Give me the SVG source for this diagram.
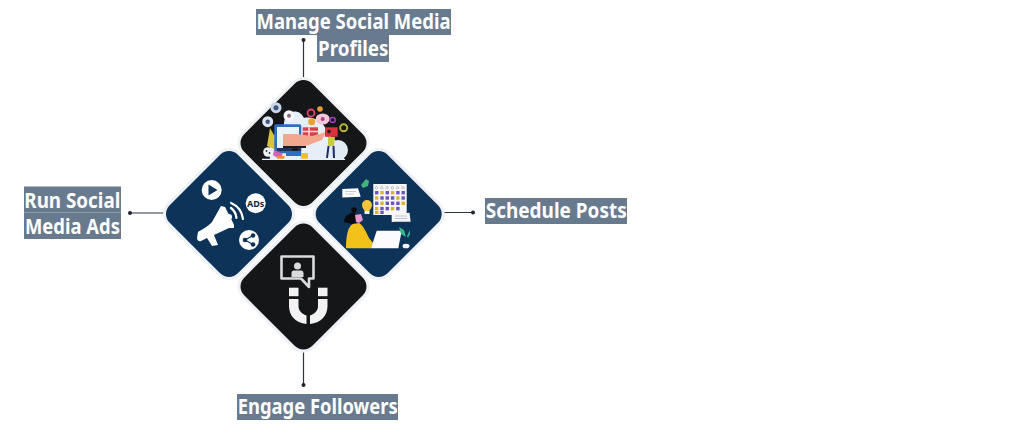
<svg xmlns="http://www.w3.org/2000/svg" width="1024" height="435" viewBox="0 0 1024 435">
<style>
.lbl{fill:#677a8e}
.t{font-family:"Noto Sans","Open Sans",sans-serif;font-weight:700;font-size:20.500px;fill:#fff}
.d{stroke:#eef1f5;stroke-width:3}
.navy{fill:#0d3358}.blk{fill:#141617}
.c{stroke:#2b3440;stroke-width:1.2;fill:none}.dot{fill:#1c2530}
.w{fill:#fff}.wl{stroke:#fff;fill:none;stroke-width:2.2;stroke-linecap:round}
.p{fill:#6a55b8}.y{fill:#d9b42c}
.ln{stroke:#aab2bc;stroke-width:.7;fill:none}
</style>
<rect width="1024" height="435" fill="#fff"/>
<g id="connectors">
<path class="c" d="M303.500 40V78M443 212.500H473M130 213H165M303.500 350V385"/>
<circle class="dot" cx="303.500" cy="40" r="2"/><circle class="dot" cx="473" cy="212.500" r="2"/><circle class="dot" cx="130" cy="213" r="2"/><circle class="dot" cx="303.500" cy="385" r="2"/>
</g>
<g id="node-top">
<rect class="d blk" x="253.800" y="93.300" width="99.400" height="99.400" rx="14" transform="rotate(45 303.500 143)"/>
<path d="M270 159C268 142 276 130 284 124C284 112 298 106 304 118C312 116 326 122 326 132C336 140 346 150 344 159Z" fill="#e6eff8"/>
<circle cx="338" cy="150" r="10" fill="#dfeaf5"/>
<circle cx="276" cy="107.700" r="5.500" fill="#c9d6e6"/><circle cx="276" cy="107.700" r="2.500" fill="#3d5580"/>
<circle cx="267.700" cy="121.700" r="5.500" fill="#dde6f0"/><circle cx="267.700" cy="121.700" r="2.200" fill="#3d5580"/>
<circle cx="289" cy="115.700" r="5.500" fill="#f3f6fa"/><circle cx="289" cy="115.700" r="2" fill="#8a6a70"/>
<circle cx="311" cy="113" r="3.500" fill="none" stroke="#e0476e" stroke-width="1.800"/>
<circle cx="320" cy="109" r="2.800" fill="#e69a3c"/>
<circle cx="311.700" cy="121.700" r="3.500" fill="#f0a030"/>
<ellipse cx="322.700" cy="119" rx="7" ry="5.500" fill="#f5c6d8"/><circle cx="322.700" cy="119" r="2" fill="#b03a8a"/>
<circle cx="332.700" cy="120" r="2.500" fill="none" stroke="#a03fc0" stroke-width="1.500"/>
<circle cx="343.700" cy="127.700" r="3.500" fill="none" stroke="#b5b535" stroke-width="2"/>
<path d="M267 146L270 128L274 135L276 150Z" fill="#d8c33a"/>
<rect x="274.300" y="124.300" width="27" height="29" rx="1.500" fill="#2a6fc4"/>
<rect x="277" y="127" width="22" height="21" fill="#eaf2fb"/>
<rect x="277" y="148" width="24" height="3" fill="#1f3560"/>
<rect x="302.700" y="127.300" width="15.300" height="9.500" fill="#d8404a"/>
<path d="M309 127.300V136.800M302.700 131.500H318" stroke="#f7d8da" stroke-width="1.500"/>
<path d="M283 134H296L312 136L326 132L322 140L306 146H283Z" fill="#f2a78f"/>
<path d="M283 146H306V148H298V151H292V148H283Z" fill="#1a1c20"/>
<rect x="325" y="127.300" width="12.700" height="9.500" fill="#d8323c"/>
<circle cx="329" cy="131.500" r="1.800" fill="#2a1a20"/>
<path d="M328 137L331 137L335 137L334 146H328Z" fill="#c8cc3e"/>
<path d="M328.500 146L327 158M333.500 146L334 158" stroke="#1f2a60" stroke-width="2"/>
<circle cx="268" cy="152" r="4.800" fill="#eef0f2"/><circle cx="266.500" cy="151" r=".9" fill="#333"/><circle cx="269.500" cy="153" r=".9" fill="#333"/>
<path d="M274 150L283 154L279 159L273 155Z" fill="#d860b0"/>
<path d="M277 156L285 156L283 160L277 159Z" fill="#f0902c"/>
<rect x="286" y="153" width="18" height="3" fill="#2a6fc4"/>
<rect x="301" y="153" width="7" height="6" rx="1" fill="#eec02e"/>
<path d="M262 159.300H345" stroke="#e9f0f7" stroke-width="1.200"/>
</g>
<g id="node-right">
<rect class="d navy" x="329" y="164.300" width="99.400" height="99.400" rx="14" transform="rotate(45 378.700 214)"/>
<path d="M342.300 189L358 188.300L360.700 196.700L342.300 197.500Z" class="w"/>
<path class="ln" d="M345 191.500H356M345 194H354"/>
<path d="M361 185L366 179L369 181L368 186L363 188Z" fill="#3fb57a"/>
<rect x="373.300" y="184" width="33.400" height="31" fill="#f6f6f8"/>
<g fill="none" stroke="#9aa0aa" stroke-width=".6"><circle cx="376.500" cy="187.700" r="1.200"/><circle cx="381.800" cy="187.700" r="1.200"/><circle cx="387.100" cy="187.700" r="1.200"/><circle cx="392.400" cy="187.700" r="1.200"/><circle cx="397.700" cy="187.700" r="1.200"/><circle cx="403" cy="187.700" r="1.200"/></g>
<rect class="p" x="375" y="191" width="3.400" height="3.400"/><rect class="y" x="380.300" y="191" width="3.400" height="3.400"/><rect class="p" x="385.600" y="191" width="3.400" height="3.400"/><rect class="y" x="390.900" y="191" width="3.400" height="3.400"/><rect class="p" x="396.200" y="191" width="3.400" height="3.400"/><rect class="p" x="401.500" y="191" width="3.400" height="3.400"/>
<rect class="y" x="375" y="196.300" width="3.400" height="3.400"/><rect class="p" x="380.300" y="196.300" width="3.400" height="3.400"/><rect class="p" x="385.600" y="196.300" width="3.400" height="3.400"/><rect class="p" x="390.900" y="196.300" width="3.400" height="3.400"/><rect class="y" x="396.200" y="196.300" width="3.400" height="3.400"/><rect class="p" x="401.500" y="196.300" width="3.400" height="3.400"/>
<rect class="p" x="375" y="201.600" width="3.400" height="3.400"/><rect class="y" x="380.300" y="201.600" width="3.400" height="3.400"/><rect class="p" x="385.600" y="201.600" width="3.400" height="3.400"/><rect class="p" x="390.900" y="201.600" width="3.400" height="3.400"/><rect class="p" x="396.200" y="201.600" width="3.400" height="3.400"/><rect class="y" x="401.500" y="201.600" width="3.400" height="3.400"/>
<rect class="y" x="375" y="206.900" width="3.400" height="3.400"/><rect class="p" x="380.300" y="206.900" width="3.400" height="3.400"/><rect class="p" x="385.600" y="206.900" width="3.400" height="3.400"/><rect class="y" x="390.900" y="206.900" width="3.400" height="3.400"/><rect class="p" x="396.200" y="206.900" width="3.400" height="3.400"/>
<rect class="y" x="375" y="211" width="3.400" height="3"/><rect class="p" x="380.300" y="211" width="3.400" height="3"/>
<path d="M391.700 214.500L409.500 212.700L410.700 221.700L396 221.700L391.700 222Z" fill="#f4f5f7"/>
<path class="ln" d="M395 216H407M395 218.500H407"/>
<path d="M362 205A5 5 0 1 1 372 205C372 208 370 209 369.500 211H364.500C364 209 362 208 362 205Z" fill="#f2c53a"/>
<rect x="364.500" y="211" width="5" height="3" fill="#f4f4f4"/>
<circle cx="354" cy="210" r="2.800" fill="#0a0a12"/>
<path d="M344 222C344 216 350 212 355 213L358 222L352 224Z" fill="#0a0a12"/>
<path d="M355 215L361 214L363 220L359 223L356 222Z" fill="#e89acb"/>
<path d="M346 248.300C346 236 348 226 353 224L359 223C364 226 367 234 369 238L373 243L371 248.300Z" fill="#f2c11a"/>
<path d="M376.700 230.700H401.700L398.300 248.300H371Z" fill="#fbfbfd"/>
<path d="M401 234L399 227L404 230L406 237ZM407 236L410 230L410 234L408 238Z" fill="#38b48a"/>
<ellipse cx="406" cy="246" rx="3.500" ry="2.300" fill="#f2f2f2"/>
</g>
<g id="node-left">
<rect class="d navy" x="179.300" y="164.300" width="99.400" height="99.400" rx="14" transform="rotate(45 229 214)"/>
<circle class="w" cx="211.700" cy="190" r="10"/>
<path d="M208.500 184.500L217.500 190L208.500 195.500Z" fill="#0d3358"/>
<circle class="w" cx="255.700" cy="203.300" r="10"/>
<text x="255.700" y="206.600" font-family="'Noto Sans',sans-serif" font-weight="700" font-size="9" fill="#1a2a3c" text-anchor="middle">ADs</text>
<circle class="w" cx="249" cy="240" r="10"/>
<path d="M245 240L253 235.500M245 240L253 244.500" stroke="#0d3358" stroke-width="1.300"/>
<circle cx="245" cy="240" r="2.300" fill="#0d3358"/><circle cx="253" cy="235.500" r="2.300" fill="#0d3358"/><circle cx="253" cy="244.500" r="2.300" fill="#0d3358"/>
<path class="w" d="M221 206L225 207C228 213 232 220 234 225L234 228L229 228L214 235L218 245L212 246L207 238L201 241C199 242 197 240 197 238L198 232C199 231 208 227 212 222Z"/>
<path class="wl" d="M231 208C235 211 236 214 236.500 218M231 203C238 206 242 211 243 219"/>
<circle cx="229" cy="217" r="3" class="w"/>
</g>
<g id="node-bottom">
<rect class="d blk" x="253.800" y="236.800" width="99.400" height="99.400" rx="14" transform="rotate(45 303.500 286.500)"/>
<path d="M281.500 256.500H313.500V278.500H309V287L301 278.500H281.500Z" fill="none" stroke="#d9dcdc" stroke-width="2.600" stroke-linejoin="round"/>
<circle cx="297.500" cy="266" r="3.500" fill="#d9dcdc"/>
<path d="M291.500 277V273C291.500 271 293 270.500 295 270.500H300C302 270.500 303.500 271 303.500 273V277Z" fill="#d9dcdc"/>
<rect x="289" y="287.700" width="9.500" height="8.500" fill="#f2f2f2"/><rect x="318" y="287.700" width="9.500" height="8.500" fill="#f2f2f2"/>
<path d="M289 299H298.500V306C298.500 310 301 313.500 306.500 315.500V324C295 323 289 315 289 306Z" fill="#f2f2f2"/>
<path d="M327.500 299H318V306C318 310 315.500 313.500 310 315.500V324C321.500 323 327.500 315 327.500 306Z" fill="#f2f2f2"/>
</g>
<g id="label-top"><rect class="lbl" x="256" y="9" width="195" height="26"/><rect class="lbl" x="317" y="35" width="72" height="27"/>
<text class="t" x="256.500" y="29" textLength="194" lengthAdjust="spacingAndGlyphs">Manage Social Media</text><text class="t" x="318" y="55.500" textLength="70.500" lengthAdjust="spacingAndGlyphs">Profiles</text></g>
<g id="label-right"><rect class="lbl" x="485" y="198" width="142" height="26"/><text class="t" x="485.700" y="218" textLength="141" lengthAdjust="spacingAndGlyphs">Schedule Posts</text></g>
<g id="label-left"><rect class="lbl" x="24" y="186.500" width="97" height="26"/><rect class="lbl" x="24" y="212.500" width="97" height="26.500"/>
<text class="t" x="24.300" y="207.500" textLength="96" lengthAdjust="spacingAndGlyphs">Run Social</text><text class="t" x="25" y="234" textLength="95" lengthAdjust="spacingAndGlyphs">Media Ads</text></g>
<g id="label-bottom"><rect class="lbl" x="237" y="394" width="161" height="26"/><text class="t" x="237.700" y="414" textLength="160" lengthAdjust="spacingAndGlyphs">Engage Followers</text></g>
</svg>
